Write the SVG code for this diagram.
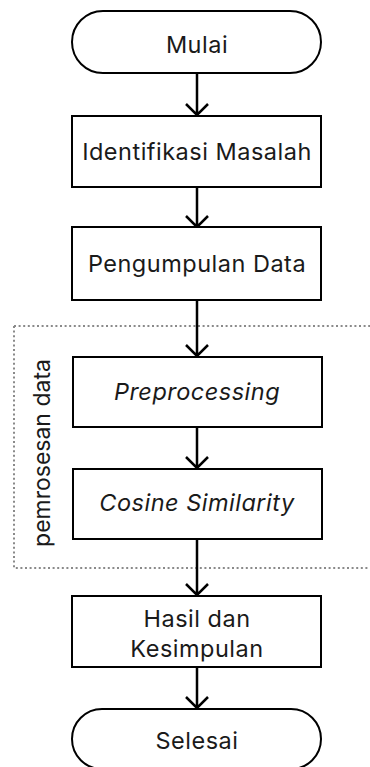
<svg xmlns="http://www.w3.org/2000/svg" width="370" height="767" viewBox="0 0 370 767">
<defs>
<style>
.n{fill:#fff;stroke:#000;stroke-width:2}
.t{font-family:Inter,"Liberation Sans",sans-serif;font-size:23.5px;letter-spacing:0.5px;fill:#1a1a1a;text-anchor:middle}
.r{letter-spacing:0;font-size:23px}
.i{font-style:italic}
.c{fill:none;stroke:#000;stroke-width:2.5}
.g{fill:none;stroke:#8a8a8a;stroke-width:2;stroke-dasharray:2 2.6}
</style>
</defs>
<rect width="370" height="767" fill="#fff"/>
<g id="group">
<rect class="g" x="14" y="326" width="380" height="242"/>
<text class="t r" transform="translate(50 453) rotate(-90)">pemrosesan data</text>
</g>
<g id="connectors">
<path class="c" d="M197 73V115M186 104L197 115L208 104"/>
<path class="c" d="M197 187V227M186 216L197 227L208 216"/>
<path class="c" d="M197 300V356M186 345L197 356L208 345"/>
<path class="c" d="M197 427V468M186 457L197 468L208 457"/>
<path class="c" d="M197 539V595M186 584L197 595L208 584"/>
<path class="c" d="M197 667V708M186 697L197 708L208 697"/>
</g>
<g id="mulai"><rect class="n" x="72" y="11" width="249" height="62" rx="31"/><text class="t" x="197" y="53">Mulai</text></g>
<g id="identifikasi"><rect class="n" x="72" y="116" width="249" height="71"/><text class="t" x="197" y="160">Identifikasi Masalah</text></g>
<g id="pengumpulan"><rect class="n" x="72" y="227" width="249" height="73"/><text class="t" x="197" y="272">Pengumpulan Data</text></g>
<g id="preprocessing"><rect class="n" x="73" y="357" width="249" height="70"/><text class="t i" x="197" y="400">Preprocessing</text></g>
<g id="cosine"><rect class="n" x="73" y="469" width="249" height="70"/><text class="t i" x="197" y="511">Cosine Similarity</text></g>
<g id="hasil"><rect class="n" x="72" y="596" width="249" height="71"/><text class="t" x="197" y="627">Hasil dan</text><text class="t" x="197" y="657">Kesimpulan</text></g>
<g id="selesai"><rect class="n" x="72" y="709" width="249" height="60" rx="30"/><text class="t" x="197" y="749">Selesai</text></g>
</svg>
